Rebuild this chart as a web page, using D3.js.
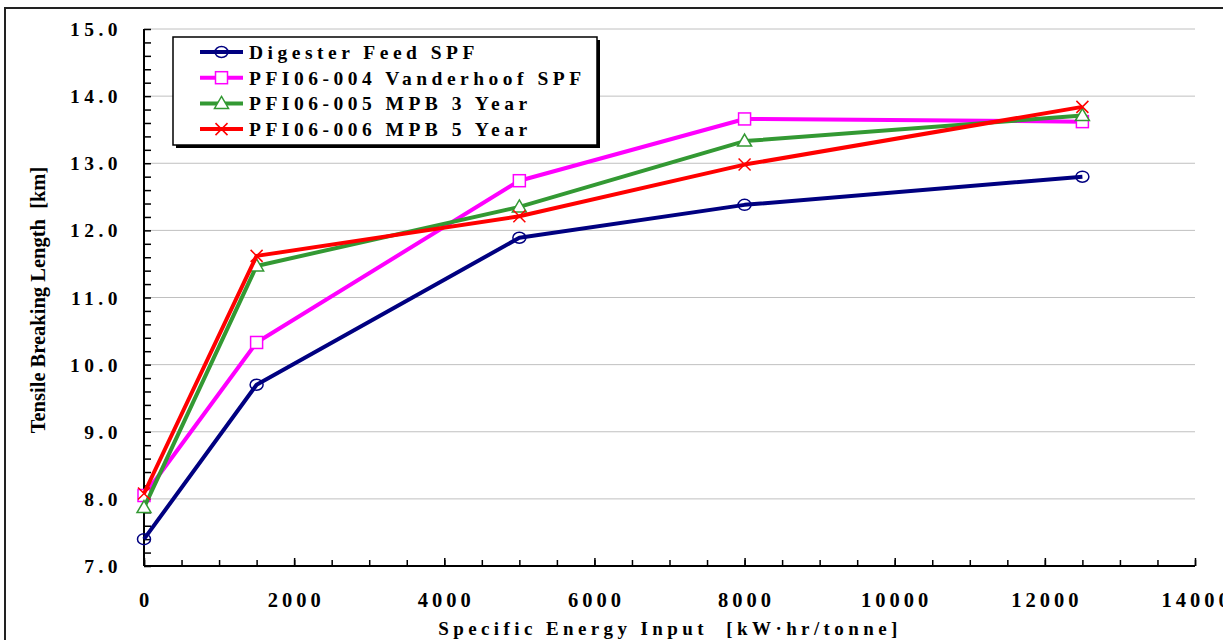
<!DOCTYPE html>
<html>
<head>
<meta charset="utf-8">
<script src="https://cdn.jsdelivr.net/npm/d3@7"></script>
<style>
  body { margin: 0; background: #fff; }
  text { font-family: "Liberation Serif", "Times New Roman", serif; font-weight: bold; fill: #000; white-space: pre; }
</style>
</head>
<body>
<div id="chart"></div>
<script>
// data
const energy = [0, 1500, 5000, 8000, 12500];
const digesterFeed = [7.40, 9.70, 11.89, 12.38, 12.80];
const vanderhoof = [8.05, 10.33, 12.74, 13.66, 13.62];
const mpb3Year = [7.87, 11.47, 12.35, 13.33, 13.71];
const mpb5Year = [8.08, 11.62, 12.21, 12.98, 13.84];
const seriesNames = ["Digester Feed SPF", "PFI06-004 Vanderhoof SPF", "PFI06-005 MPB 3 Year", "PFI06-006 MPB 5 Year"];
const yTickValues = [7, 8, 9, 10, 11, 12, 13, 14, 15];
const xTickValues = [0, 2000, 4000, 6000, 8000, 10000, 12000, 14000];

const series = [
    { name: seriesNames[0], values: digesterFeed, color: "#000080", marker: "circle" },
    { name: seriesNames[1], values: vanderhoof, color: "#ff00ff", marker: "square" },
    { name: seriesNames[2], values: mpb3Year, color: "#339933", marker: "triangle" },
    { name: seriesNames[3], values: mpb5Year, color: "#ff0000", marker: "cross" }
];

const width = 1223, height = 640;
const margin = { top: 29, right: 28, bottom: 74, left: 144 };
const innerW = width - margin.left - margin.right;
const innerH = height - margin.top - margin.bottom;

const svg = d3.select("#chart").append("svg")
    .attr("width", width)
    .attr("height", height);

// outer frame of the chart area
svg.append("rect")
    .attr("x", 5).attr("y", 8)
    .attr("width", 1300).attr("height", 700)
    .attr("fill", "none")
    .attr("stroke", "#222")
    .attr("stroke-width", 2);

const plot = svg.append("g")
    .attr("transform", `translate(${margin.left},${margin.top})`);

const x = d3.scaleLinear().domain([0, 14000]).range([0, innerW]);
const y = d3.scaleLinear().domain([7, 15]).range([innerH, 0]);

// horizontal gridlines
plot.append("g")
    .selectAll("line")
    .data(yTickValues.slice(1))
    .enter().append("line")
    .attr("x1", 0).attr("x2", innerW)
    .attr("y1", d => y(d)).attr("y2", d => y(d))
    .attr("stroke", "#c0c0c0")
    .attr("stroke-width", 1);

// y axis: minor ticks every 0.2, pointing inward
const yAxis = plot.append("g")
    .call(d3.axisRight(y).tickValues(d3.range(7, 15.01, 0.2)).tickSize(7).tickFormat(""));
yAxis.select(".domain").remove();
yAxis.selectAll("line").attr("stroke", "#000").attr("stroke-width", 1.5);

// x axis: minor ticks every 500, major every 2000
const xMinor = plot.append("g")
    .attr("transform", `translate(0,${innerH})`)
    .call(d3.axisTop(x).tickValues(d3.range(0, 14001, 500)).tickSize(6).tickFormat(""));
xMinor.select(".domain").remove();
xMinor.selectAll("line").attr("stroke", "#000").attr("stroke-width", 1.5);

const xMajor = plot.append("g")
    .attr("transform", `translate(0,${innerH})`)
    .call(d3.axisTop(x).tickValues(xTickValues).tickSize(8).tickFormat(""));
xMajor.select(".domain").remove();
xMajor.selectAll("line").attr("stroke", "#000").attr("stroke-width", 1.5);

// axis lines
plot.append("line")
    .attr("x1", 0).attr("x2", 0).attr("y1", 0).attr("y2", innerH)
    .attr("stroke", "#000").attr("stroke-width", 2);
plot.append("line")
    .attr("x1", 0).attr("x2", innerW).attr("y1", innerH).attr("y2", innerH)
    .attr("stroke", "#000").attr("stroke-width", 2);

// tick labels
plot.append("g")
    .selectAll("text")
    .data(yTickValues)
    .enter().append("text")
    .attr("x", -22)
    .attr("y", d => y(d) + 7)
    .attr("text-anchor", "end")
    .style("font-size", "19.5px")
    .style("letter-spacing", "4.5px")
    .text(d => d.toFixed(1));

plot.append("g")
    .selectAll("text")
    .data(xTickValues)
    .enter().append("text")
    .attr("x", d => x(d) + 2)
    .attr("y", innerH + 41)
    .attr("text-anchor", "middle")
    .style("font-size", "20.5px")
    .style("letter-spacing", "4px")
    .text(d => d);

// axis titles
svg.append("text")
    .attr("x", 670)
    .attr("y", 635)
    .attr("text-anchor", "middle")
    .style("font-size", "19px")
    .style("letter-spacing", "4.4px")
    .text("Specific Energy Input  [kW\u00b7hr/tonne]");

svg.append("text")
    .attr("transform", "translate(45,300) rotate(-90)")
    .attr("text-anchor", "middle")
    .style("font-size", "20.5px")
    .text("Tensile Breaking Length  [km]");

// marker drawing helper
function drawMarker(g, type, color, cx, cy) {
    if (type === "circle") {
        g.append("ellipse")
            .attr("cx", cx).attr("cy", cy).attr("rx", 6.5).attr("ry", 5.5)
            .attr("fill", "none").attr("stroke", color).attr("stroke-width", 1.5);
    } else if (type === "square") {
        g.append("rect")
            .attr("x", cx - 6).attr("y", cy - 6).attr("width", 12).attr("height", 12)
            .attr("fill", "#fff").attr("stroke", color).attr("stroke-width", 1.5);
    } else if (type === "triangle") {
        g.append("path")
            .attr("d", `M${cx},${cy - 7}L${cx + 7},${cy + 5}L${cx - 7},${cy + 5}Z`)
            .attr("fill", "#fff").attr("stroke", color).attr("stroke-width", 1.5);
    } else {
        g.append("path")
            .attr("d", `M${cx - 6},${cy - 6}L${cx + 6},${cy + 6}M${cx - 6},${cy + 6}L${cx + 6},${cy - 6}`)
            .attr("fill", "none").attr("stroke", color).attr("stroke-width", 1.5);
    }
}

// series lines and markers
const line = d3.line()
    .x((d, i) => x(energy[i]))
    .y(d => y(d));

series.forEach(s => {
    const g = plot.append("g");
    g.append("path")
        .datum(s.values)
        .attr("d", line)
        .attr("fill", "none")
        .attr("stroke", s.color)
        .attr("stroke-width", 4)
        .attr("stroke-linejoin", "round");
    s.values.forEach((v, i) => drawMarker(g, s.marker, s.color, x(energy[i]), y(v)));
});

// legend
const legend = svg.append("g").attr("transform", "translate(173,37)");
legend.append("rect")
    .attr("x", 3).attr("y", 3).attr("width", 424).attr("height", 108)
    .attr("fill", "#000");
legend.append("rect")
    .attr("x", 0).attr("y", 0).attr("width", 424).attr("height", 108)
    .attr("fill", "#fff").attr("stroke", "#000").attr("stroke-width", 1.5);

series.forEach((s, i) => {
    const ly = 15 + i * 25.7;
    const row = legend.append("g");
    row.append("line")
        .attr("x1", 27).attr("x2", 70).attr("y1", ly).attr("y2", ly)
        .attr("stroke", s.color).attr("stroke-width", 4);
    drawMarker(row, s.marker, s.color, 48.5, ly);
    row.append("text")
        .attr("x", 76).attr("y", ly + 7)
        .style("font-size", "19.5px")
        .style("letter-spacing", "4.5px")
        .text(s.name);
});
</script>
</body>
</html>
